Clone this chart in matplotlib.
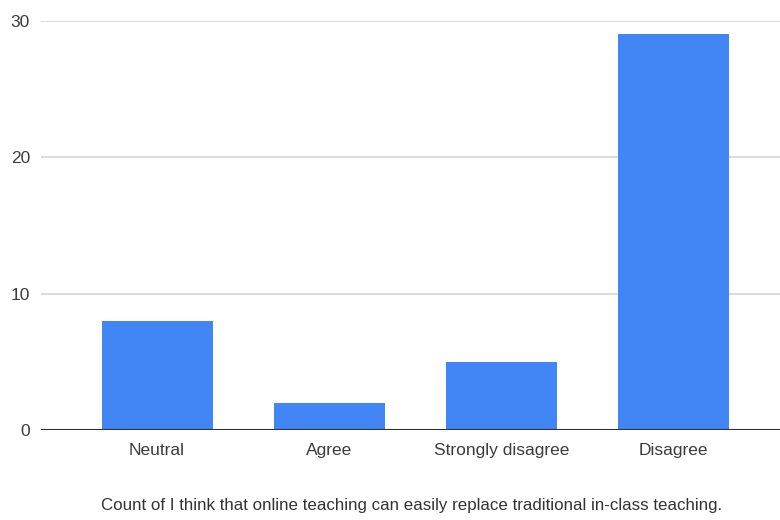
import matplotlib
matplotlib.use("Agg")
import matplotlib.pyplot as plt

# survey answers and how many respondents picked each
categories = ["Neutral", "Agree", "Strongly disagree", "Disagree"]
counts = [8, 2, 5, 29]
y_ticks = [0, 10, 20, 30]
caption = "Count of I think that online teaching can easily replace traditional in-class teaching."

plt.rcParams['font.family'] = ['Liberation Sans Narrow', 'Liberation Sans', 'DejaVu Sans']

fig = plt.figure(figsize=(7.8, 5.2), dpi=100)
ax = fig.add_axes([0.0526, 0.173, 0.9474, 0.787])

x = list(range(len(categories)))
ax.bar(x, counts, width=0.645, color="#4285F4", zorder=3)

ax.set_xlim(-0.674, 3.62)
ax.set_ylim(0, 30)
ax.set_yticks(y_ticks)
ax.set_xticks(x)
ax.set_xticklabels(categories)

# light horizontal gridlines, dark baseline
ax.grid(axis="y", color="#dcdcdc", linewidth=1.5, zorder=0)
ax.axhline(0, color="#333333", linewidth=1.5, zorder=4)
for side in ["top", "right", "left", "bottom"]:
    ax.spines[side].set_visible(False)

ax.tick_params(axis="both", length=0, labelsize=12.5, colors="#3c3c3c")
ax.tick_params(axis="x", pad=9)
ax.tick_params(axis="y", pad=8)

fig.text(0.528, 0.02, caption, ha="center", va="baseline", fontsize=12.2, color="#333333")

fig.savefig("out.png", dpi=100, facecolor="white")
